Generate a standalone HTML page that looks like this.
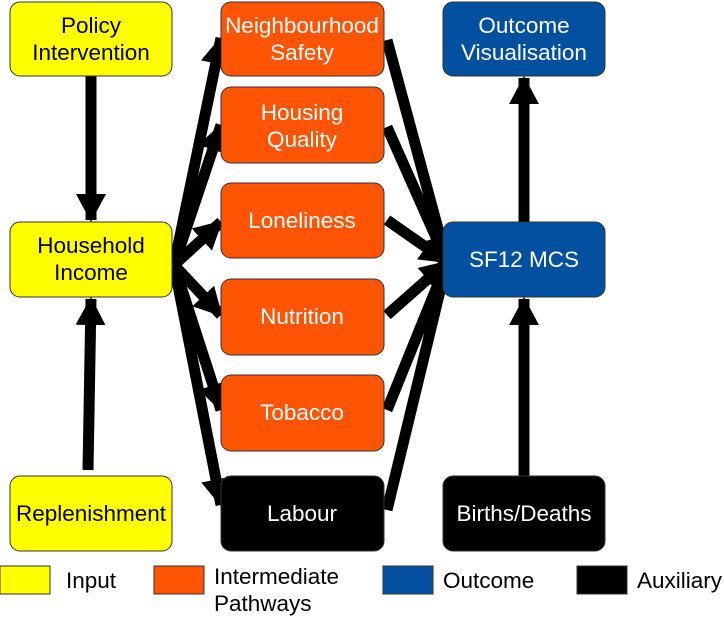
<!DOCTYPE html>
<html><head><style>body{margin:0;background:#fff}svg{display:block}text{font-family:"Liberation Sans",sans-serif}</style></head><body>
<svg width="724" height="624" viewBox="0 0 724 624" xmlns="http://www.w3.org/2000/svg">
<defs><marker id="a" markerUnits="userSpaceOnUse" markerWidth="28" markerHeight="30" refX="26" refY="15" orient="auto"><path d="M0,0 L28,15 L0,30 z" fill="#000"/></marker></defs>
<g stroke="#000" stroke-width="11" marker-end="url(#a)">
<line x1="91" y1="76" x2="91" y2="220"/>
<line x1="88" y1="470" x2="91" y2="299"/>
<line x1="524" y1="222" x2="524" y2="78"/>
<line x1="524" y1="476" x2="524" y2="299"/>
<line x1="174" y1="265" x2="221" y2="38"/>
<line x1="174" y1="265" x2="221" y2="125"/>
<line x1="174" y1="265" x2="221" y2="222"/>
<line x1="174" y1="265" x2="221" y2="315"/>
<line x1="174" y1="265" x2="221" y2="410"/>
<line x1="174" y1="265" x2="221" y2="505"/>
<line x1="387" y1="40" x2="447" y2="262"/>
<line x1="387" y1="127" x2="447" y2="262"/>
<line x1="387" y1="220" x2="447" y2="262"/>
<line x1="387" y1="315" x2="447" y2="262"/>
<line x1="387" y1="410" x2="447" y2="262"/>
<line x1="387" y1="510" x2="447" y2="262"/>
</g>
<g stroke="#333" stroke-width="1">
<rect x="10" y="2" width="162" height="74" rx="10" fill="#ffff00"/>
<rect x="10" y="222" width="162" height="75" rx="10" fill="#ffff00"/>
<rect x="10" y="476" width="162" height="75" rx="10" fill="#ffff00"/>
<rect x="221" y="2" width="163" height="74" rx="10" fill="#ff5404"/>
<rect x="221" y="87" width="163" height="76" rx="10" fill="#ff5404"/>
<rect x="221" y="183" width="163" height="75" rx="10" fill="#ff5404"/>
<rect x="221" y="279" width="163" height="76" rx="10" fill="#ff5404"/>
<rect x="221" y="375" width="163" height="76" rx="10" fill="#ff5404"/>
<rect x="221" y="476" width="163" height="75" rx="10" fill="#000"/>
<rect x="443" y="2" width="162" height="74" rx="10" fill="#0450a0"/>
<rect x="443" y="222" width="162" height="75" rx="10" fill="#0450a0"/>
<rect x="443" y="476" width="162" height="75" rx="10" fill="#000"/>
<rect x="0" y="566" width="50" height="28" fill="#ffff00"/>
<rect x="154" y="566" width="50" height="28" fill="#ff5404"/>
<rect x="383" y="566" width="50" height="28" fill="#0450a0"/>
<rect x="577" y="566" width="50" height="28" fill="#000"/>
</g>
<g font-size="22.5" text-anchor="middle" fill="#000">
<text x="91" y="33">Policy</text><text x="91" y="60">Intervention</text>
<text x="91" y="253">Household</text><text x="91" y="280">Income</text>
<text x="91" y="521">Replenishment</text>
</g>
<g font-size="22.5" text-anchor="middle" fill="#fff">
<text x="302" y="33">Neighbourhood</text><text x="302" y="60">Safety</text>
<text x="302" y="120">Housing</text><text x="302" y="147">Quality</text>
<text x="302" y="228">Loneliness</text>
<text x="302" y="324">Nutrition</text>
<text x="302" y="420">Tobacco</text>
<text x="302" y="521">Labour</text>
<text x="524" y="33">Outcome</text><text x="524" y="60">Visualisation</text>
<text x="524" y="267">SF12 MCS</text>
<text x="524" y="521">Births/Deaths</text>
</g>
<g font-size="22.5" fill="#000">
<text x="66" y="588">Input</text>
<text x="214" y="584">Intermediate</text><text x="214" y="611">Pathways</text>
<text x="443" y="588">Outcome</text>
<text x="637" y="588">Auxiliary</text>
</g>
</svg>
</body></html>
